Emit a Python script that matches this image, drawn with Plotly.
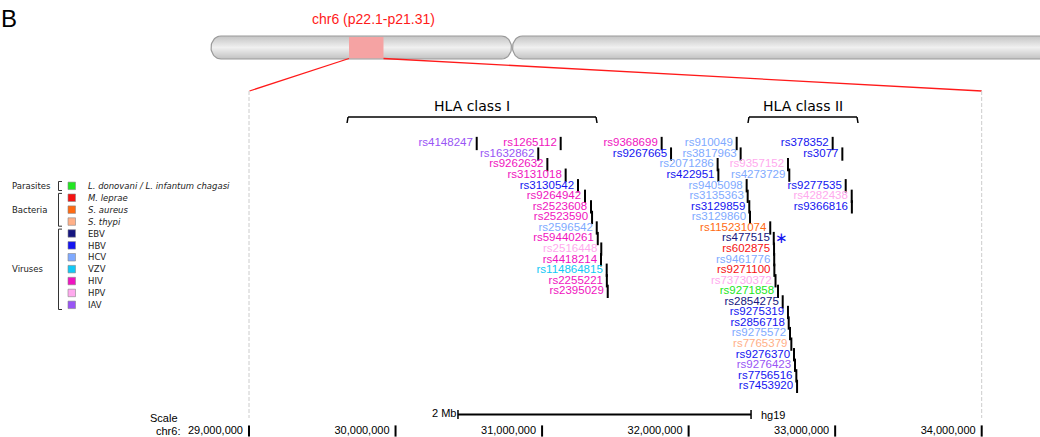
import numpy as np
import plotly.graph_objects as go

# ---------------- data ----------------
snp_ids = [
    "rs4148247", "rs1265112", "rs1632862", "rs9262632", "rs3131018", "rs3130542",
    "rs9264942", "rs2523608", "rs2523590", "rs2596542", "rs59440261", "rs2516448",
    "rs4418214", "rs114864815", "rs2255221", "rs2395029",
    "rs9368699", "rs9267665", "rs910049", "rs3817963", "rs2071286", "rs9357152",
    "rs422951", "rs4273729", "rs9405098", "rs3135363", "rs3129859", "rs3129860",
    "rs115231074", "rs477515", "rs602875", "rs9461776", "rs9271100", "rs73730372",
    "rs9271858", "rs2854275", "rs9275319", "rs2856718", "rs9275572", "rs7765379",
    "rs9276370", "rs9276423", "rs7756516", "rs7453920",
    "rs378352", "rs3077", "rs9277535", "rs4282438", "rs9366816",
]
snp_pos = [
    30554000, 31127000, 30974000, 31036000, 31161000, 31245000,
    31293000, 31334000, 31341000, 31373000, 31380000, 31404000,
    31402000, 31441000, 31442000, 31448000,
    31816000, 31880000, 32328000, 32355000, 32198000, 32678000,
    32203000, 32687000, 32396000, 32403000, 32414000, 32419000,
    32557000, 32581000, 32583000, 32584000, 32585000, 32593000,
    32610000, 32642000, 32678000, 32683000, 32692000, 32701000,
    32719000, 32726000, 32735000, 32740000,
    32983000, 33049000, 33072000, 33113000, 33114000,
]
snp_row = [
    0, 0, 1, 2, 3, 4, 5, 6, 7, 8, 9, 10, 11, 12, 13, 14,
    0, 1, 0, 1, 2, 2, 3, 3, 4, 5, 6, 7, 8, 9, 10, 11, 12, 13, 14,
    15, 16, 17, 18, 19, 20, 21, 22, 23,
    0, 1, 4, 5, 6,
]
snp_pathogen = [
    "IAV", "HIV", "IAV", "HIV", "HIV", "HBV", "HIV", "HIV", "HIV", "HCV", "HIV", "HPV",
    "HIV", "VZV", "HIV", "HIV",
    "HIV", "HBV", "HCV", "HCV", "HCV", "HPV", "HBV", "HCV", "HCV", "HCV", "HBV", "HCV",
    "S. aureus", "EBV", "M. leprae", "HCV", "M. leprae", "HPV",
    "L. donovani / L. infantum chagasi", "EBV", "HBV", "HBV", "HCV", "S. thypi",
    "HBV", "IAV", "HBV", "HBV",
    "HBV", "HBV", "HBV", "HPV", "HBV",
]
starred_snps = ["rs477515"]

pathogen_names = ["L. donovani / L. infantum chagasi", "M. leprae", "S. aureus", "S. thypi",
                  "EBV", "HBV", "HCV", "VZV", "HIV", "HPV", "IAV"]
pathogen_groups = ["Parasites", "Bacteria", "Bacteria", "Bacteria",
                   "Viruses", "Viruses", "Viruses", "Viruses", "Viruses", "Viruses", "Viruses"]
pathogen_colors = ["#22e622", "#f51212", "#ff6a12", "#ffb088",
                   "#161680", "#1414f0", "#80aaff", "#12c8f5", "#f014c0", "#ffaaee", "#9955f5"]
pathogen_italic = [True, True, True, True, False, False, False, False, False, False, False]
group_order = ["Parasites", "Bacteria", "Viruses"]

tick_pos = [29000000, 30000000, 31000000, 32000000, 33000000, 34000000]
tick_labels = ["29,000,000", "30,000,000", "31,000,000", "32,000,000", "33,000,000", "34,000,000"]

hla_labels = ["HLA class I", "HLA class II"]
hla_start = [29676000, 32412000]
hla_end = [31368000, 33149000]

region_start, region_end = 29000000, 34000000
chrom_title = "chr6 (p22.1-p21.31)"
panel_letter = "B"
scale_start = 30426000
scale_len = 2000000
scale_label = "2 Mb"
assembly = "hg19"

# ---------------- layout helpers (pixel <-> axis) ----------------
W, H = 1040, 437
X0_PX = 249.0          # pixel of region_start
PX_PER_MB = 146.54
ROW0_PX = 143.5
ROW_PX = 10.56


def gx(p):
    return region_start + (p - X0_PX) / PX_PER_MB * 1e6


def ry(p):
    return (p - ROW0_PX) / ROW_PX


BP_PER_PX = 1e6 / PX_PER_MB
color_of = dict(zip(pathogen_names, pathogen_colors))
LBL_FONT = "Liberation Sans, Arial, sans-serif"
DV_FONT = "DejaVu Sans, Verdana, sans-serif"

fig = go.Figure()

# ---------------- chromosome ideogram (decoration, pixel axes) ----------------
def capsule(x0, x1, y0, y1, rx, n=30):
    cy = (y0 + y1) / 2
    rr = (y1 - y0) / 2
    t = np.linspace(-np.pi / 2, np.pi / 2, n)
    xr = x1 - rx + rx * np.cos(t)
    yr = cy + rr * np.sin(t)
    t2 = np.linspace(np.pi / 2, 3 * np.pi / 2, n)
    xl = x0 + rx + rx * np.cos(t2)
    yl = cy + rr * np.sin(t2)
    xs = np.concatenate([xr, xl, xr[:1]])
    ys = np.concatenate([yr, yl, yr[:1]])
    return xs, ys


for (cx0, cx1) in [(211, 511.5), (512.5, 1060)]:
    xs, ys = capsule(cx0, cx1, 36, 59, 10)
    fig.add_trace(go.Scatter(
        x=xs, y=ys, xaxis="x2", yaxis="y2", mode="lines", fill="toself",
        line=dict(color="#9a9a9a", width=1.2),
        fillgradient=dict(type="vertical",
                          colorscale=[[0, "#c2c2c2"], [0.5, "#f0f0f0"], [1, "#c4c4c4"]]),
        hoverinfo="skip", showlegend=False))

# ---------------- SNP bars ----------------
fig.add_trace(go.Scatter(
    x=snp_pos, y=snp_row, mode="markers",
    marker=dict(symbol="line-ns", size=9.5, color="black", line=dict(color="black", width=2)),
    hoverinfo="skip", showlegend=False))

# ---------------- SNP labels, one trace per pathogen ----------------
for name in pathogen_names:
    idx = [i for i, p in enumerate(snp_pathogen) if p == name]
    if not idx:
        continue
    fig.add_trace(go.Scatter(
        x=[snp_pos[i] for i in idx], y=[snp_row[i] for i in idx],
        text=[snp_ids[i] for i in idx], mode="markers+text",
        textposition="middle left",
        textfont=dict(family=LBL_FONT, size=11.5, color=color_of[name]),
        marker=dict(size=4.6, color="rgba(0,0,0,0)", line=dict(width=0)),
        hoverinfo="skip", showlegend=False, name=name))

# ---------------- genomic axis ticks ----------------
fig.add_trace(go.Scatter(
    x=tick_pos, y=[ry(431)] * len(tick_pos), text=tick_labels,
    mode="markers+text", textposition="middle left",
    textfont=dict(family=LBL_FONT, size=11, color="black"),
    marker=dict(symbol="line-ns", size=8, color="black", line=dict(color="black", width=2)),
    hoverinfo="skip", showlegend=False))

shapes = []
annotations = []

# highlight on ideogram + zoom lines
hl_x0, hl_x1 = 349, 383.5
shapes.append(dict(type="rect", xref="x2", yref="y2", x0=hl_x0, x1=hl_x1, y0=37, y1=58.3,
                   fillcolor="#f5a3a3", line=dict(width=0), layer="above"))
shapes.append(dict(type="line", xref="x2", yref="y2", x0=hl_x0, y0=58.5, x1=X0_PX + 0.5, y1=91,
                   line=dict(color="#ff1a1a", width=1.3)))
right_px = X0_PX + (region_end - region_start) / 1e6 * PX_PER_MB
shapes.append(dict(type="line", xref="x2", yref="y2", x0=hl_x1, y0=58.5, x1=right_px, y1=91,
                   line=dict(color="#ff1a1a", width=1.3)))
annotations.append(dict(xref="x2", yref="y2", x=373, y=19, text=chrom_title, showarrow=False,
                        font=dict(family=LBL_FONT, size=14, color="#ff1a1a"),
                        xanchor="center", yanchor="middle"))
annotations.append(dict(xref="paper", yref="paper", x=0, y=1, text=panel_letter, showarrow=False,
                        font=dict(family=LBL_FONT, size=24, color="black"),
                        xanchor="left", yanchor="top", xshift=-1, yshift=-3))

# region boundary dashed lines
for gpos in (region_start, region_end):
    shapes.append(dict(type="line", xref="x", yref="y2", x0=gpos, x1=gpos, y0=91, y1=418,
                       line=dict(color="#cccccc", width=1, dash="4px,2px")))

# HLA brackets
for lab, s, e in zip(hla_labels, hla_start, hla_end):
    shapes.append(dict(type="line", xref="x", yref="y2", x0=s, x1=e, y0=117, y1=117,
                       line=dict(color="black", width=1.5)))
    shapes.append(dict(type="line", xref="x", yref="y2", x0=s, x1=s - BP_PER_PX, y0=117, y1=123,
                       line=dict(color="black", width=1.5)))
    shapes.append(dict(type="line", xref="x", yref="y2", x0=e, x1=e + BP_PER_PX, y0=117, y1=123,
                       line=dict(color="black", width=1.5)))
    annotations.append(dict(xref="x", yref="y2", x=(s + e) / 2, y=105.5, text=lab, showarrow=False,
                            font=dict(family=DV_FONT, size=14, color="black"),
                            xanchor="center", yanchor="middle"))

# asterisk
for sid in starred_snps:
    i = snp_ids.index(sid)
    annotations.append(dict(xref="x", yref="y", x=snp_pos[i], y=snp_row[i], text="\u2217",
                            showarrow=False, xanchor="left", yanchor="middle", xshift=-1,
                            yshift=0.5,
                            font=dict(family=DV_FONT, size=15, color=color_of["HBV"])))

# scale bar
scale_end = scale_start + scale_len
shapes.append(dict(type="line", xref="x", yref="y2", x0=scale_start, x1=scale_end, y0=414.5, y1=414.5,
                   line=dict(color="black", width=2)))
for sx in (scale_start, scale_end):
    shapes.append(dict(type="line", xref="x", yref="y2", x0=sx, x1=sx, y0=410, y1=419,
                       line=dict(color="black", width=1.5)))
annotations.append(dict(xref="x", yref="y2", x=scale_start, y=413, text=scale_label, showarrow=False,
                        xanchor="right", yanchor="middle", xshift=0,
                        font=dict(family=LBL_FONT, size=11, color="black")))
annotations.append(dict(xref="x", yref="y2", x=scale_end, y=415, text=assembly, showarrow=False,
                        xanchor="left", yanchor="middle", xshift=8,
                        font=dict(family=LBL_FONT, size=11, color="black")))
annotations.append(dict(xref="x2", yref="y2", x=180, y=418, text="Scale", showarrow=False,
                        xanchor="right", yanchor="middle",
                        font=dict(family=LBL_FONT, size=11, color="black")))
annotations.append(dict(xref="x2", yref="y2", x=182, y=431, text="chr6:", showarrow=False,
                        xanchor="right", yanchor="middle",
                        font=dict(family=LBL_FONT, size=11, color="black")))

# ---------------- legend (custom) ----------------
LEG_Y0, LEG_DY = 186.0, 11.9
item_y = [LEG_Y0 + k * LEG_DY for k in range(len(pathogen_names))]
for name, col, ital, yy in zip(pathogen_names, pathogen_colors, pathogen_italic, item_y):
    shapes.append(dict(type="rect", xref="x2", yref="y2", x0=68, x1=75.5, y0=yy - 3.9, y1=yy + 3.6,
                       fillcolor=col, line=dict(color="#888888", width=0.6)))
    annotations.append(dict(xref="x2", yref="y2", x=86, y=yy, text=f"<i>{name}</i>" if ital else name,
                            showarrow=False, xanchor="left", yanchor="middle",
                            font=dict(family=DV_FONT, size=8.5, color="#222222")))
for g in group_order:
    ys = [yy for yy, gg in zip(item_y, pathogen_groups) if gg == g]
    top, bot = min(ys) - 4.5, max(ys) + 4.5
    shapes.append(dict(type="line", xref="x2", yref="y2", x0=58.5, x1=58.5, y0=top, y1=bot,
                       line=dict(color="#333333", width=1)))
    for yb in (top, bot):
        shapes.append(dict(type="line", xref="x2", yref="y2", x0=58.5, x1=62, y0=yb, y1=yb,
                           line=dict(color="#333333", width=1)))
    annotations.append(dict(xref="x2", yref="y2", x=10, y=sum(ys) / len(ys), text=g, showarrow=False,
                            xanchor="left", yanchor="middle",
                            font=dict(family=DV_FONT, size=8.5, color="#222222")))

fig.update_layout(
    width=W, height=H, margin=dict(l=0, r=0, t=0, b=0),
    paper_bgcolor="white", plot_bgcolor="white", showlegend=False,
    xaxis=dict(range=[gx(0), gx(W)], visible=False, fixedrange=True),
    yaxis=dict(range=[ry(H), ry(0)], visible=False, fixedrange=True),
    xaxis2=dict(range=[0, W], overlaying="x", visible=False, fixedrange=True),
    yaxis2=dict(range=[H, 0], overlaying="y", visible=False, fixedrange=True),
    shapes=shapes, annotations=annotations,
)

fig.write_html("out.html", config={"displayModeBar": False},
               post_script="document.body.style.margin='0';document.body.style.overflow='hidden';")
